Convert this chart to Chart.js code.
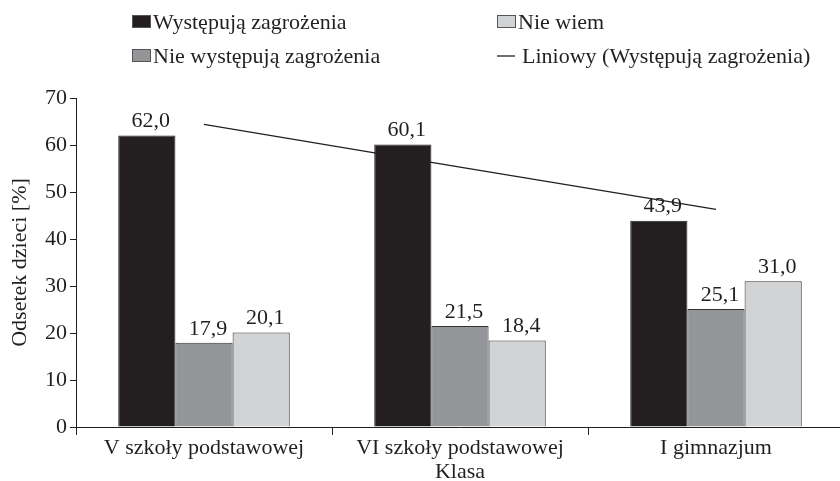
<!DOCTYPE html>
<html>
<head>
<meta charset="utf-8">
<script src="https://cdn.jsdelivr.net/npm/chart.js@4"></script>
<style>
  html, body { margin: 0; padding: 0; background: #fff; overflow: hidden; }
  #wrap { width: 844px; height: 481px; }
</style>
</head>
<body>
<div id="wrap"><canvas id="mycanvas"></canvas></div>
<script>
const categories = ['V szkoły podstawowej', 'VI szkoły podstawowej', 'I gimnazjum'];
const seriesNames = ['Występują zagrożenia', 'Nie występują zagrożenia', 'Nie wiem'];
const threatYes = [62.0, 60.1, 43.9];
const threatNo = [17.9, 21.5, 25.1];
const dontKnow = [20.1, 18.4, 31.0];
// trend line values at category centres
const trendLabel = 'Liniowy (Występują zagrożenia)';
const trendVals = [64.4, 55.3, 46.3];
const yTicks = [0, 10, 20, 30, 40, 50, 60, 70];

const FONT = '"Liberation Serif", "DejaVu Serif", serif';
const colors = ['#231f20', '#939598', '#d1d3d4'];

// value labels above bars
const valueLabels = {
    id: 'valueLabels',
    afterDatasetsDraw(chart) {
        const ctx = chart.ctx;
        ctx.save();
        ctx.font = '22px ' + FONT;
        ctx.fillStyle = '#231f20';
        ctx.textAlign = 'center';
        ctx.textBaseline = 'bottom';
        chart.data.datasets.forEach((ds, i) => {
            if (ds.type === 'line') return;
            chart.getDatasetMeta(i).data.forEach((bar, j) => {
                ctx.fillText(ds.data[j].toFixed(1).replace('.', ','), bar.x + 4, bar.y - 3);
            });
        });
        ctx.restore();
    }
};

// two-column legend at the top
const topLegend = {
    id: 'topLegend',
    afterDraw(chart) {
        const ctx = chart.ctx;
        ctx.save();
        ctx.font = '22px ' + FONT;
        ctx.textBaseline = 'middle';
        const spots = [[132, 22], [132, 56], [497, 22], [497, 56]];
        chart.data.datasets.forEach((d, n) => {
            const [x, y] = spots[n];
            if (d.type === 'line') {
                ctx.strokeStyle = '#231f20';
                ctx.lineWidth = 1.3;
                ctx.beginPath();
                ctx.moveTo(x, y);
                ctx.lineTo(x + 18, y);
                ctx.stroke();
                ctx.fillStyle = '#231f20';
                ctx.fillText(d.label, x + 25, y + 1);
            } else {
                ctx.fillStyle = d.backgroundColor;
                ctx.fillRect(x, y - 7, 19, 13);
                ctx.strokeStyle = '#555';
                ctx.lineWidth = 1;
                ctx.strokeRect(x + 0.5, y - 6.5, 18, 12);
                ctx.fillStyle = '#231f20';
                ctx.fillText(d.label, x + 21, y + 1);
            }
        });
        ctx.restore();
    }
};

const ctx = document.getElementById('mycanvas').getContext('2d');
const myChart = new Chart(ctx, {
    type: 'bar',
    data: {
        labels: categories,
        datasets: [
            { label: seriesNames[0], data: threatYes, backgroundColor: colors[0], borderColor: '#231f20', borderWidth: 1, order: 0 },
            { label: seriesNames[1], data: threatNo, backgroundColor: colors[1], borderColor: '#333', borderWidth: 1, order: 0 },
            { label: seriesNames[2], data: dontKnow, backgroundColor: colors[2], borderColor: '#333', borderWidth: 1, order: 0 },
            { type: 'line', label: trendLabel, data: trendVals, borderColor: '#231f20', borderWidth: 1.3, pointRadius: 0, fill: false, order: 5 }
        ]
    },
    options: {
        responsive: true,
        maintainAspectRatio: false,
        animation: false,
        layout: { padding: { top: 98, right: 0, bottom: 0, left: 0 } },
        datasets: { bar: { barPercentage: 1.0, categoryPercentage: 0.67 } },
        plugins: { legend: { display: false }, tooltip: { enabled: false } },
        scales: {
            x: {
                grid: { drawOnChartArea: false, drawTicks: true, tickLength: 8, color: '#231f20', offset: true },
                border: { display: true, color: '#231f20', width: 1 },
                ticks: { color: '#231f20', font: { family: FONT, size: 22 }, padding: 0, maxRotation: 0 },
                title: { display: true, text: 'Klasa', color: '#231f20', font: { family: FONT, size: 22 }, padding: { top: 0, bottom: -4 } },
                afterFit(scale) { scale.height = 54; }
            },
            y: {
                min: 0, max: 70,
                afterBuildTicks(scale) { scale.ticks = yTicks.map(v => ({ value: v })); },
                grid: { drawOnChartArea: false, drawTicks: true, tickLength: 6, color: '#231f20' },
                border: { display: true, color: '#231f20', width: 1 },
                ticks: { color: '#231f20', font: { family: FONT, size: 22 }, padding: 3 },
                title: { display: true, text: 'Odsetek dzieci [%]', color: '#231f20', font: { family: FONT, size: 22 }, padding: { top: 7, bottom: 0 } },
                afterFit(scale) { scale.width = 76; }
            }
        }
    },
    plugins: [valueLabels, topLegend]
});
</script>
</body>
</html>
